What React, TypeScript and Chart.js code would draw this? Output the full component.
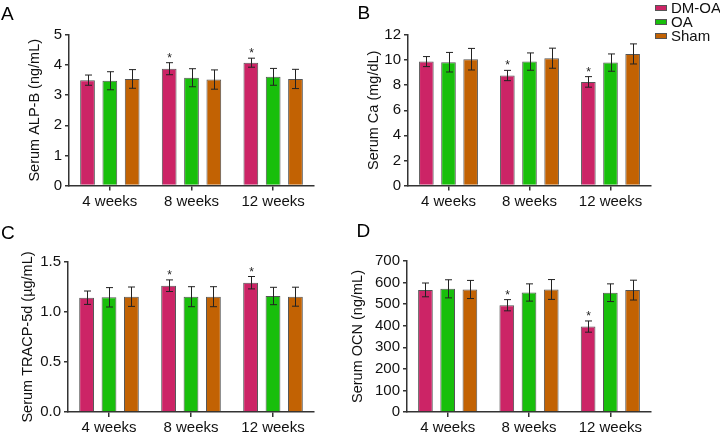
import React, { useEffect, useRef } from "react";
import { Chart, registerables } from "chart.js";

Chart.register(...registerables);

// ---------- DATA ----------
const categories = ["4 weeks", "8 weeks", "12 weeks"];
const groups = ["DM-OA", "OA", "Sham"];

// Panel A: Serum ALP-B (ng/mL)
const alpDmOa = [3.5, 3.88, 4.08];
const alpOa = [3.48, 3.58, 3.61];
const alpSham = [3.54, 3.52, 3.54];
const alpDmOaErr = [0.17, 0.2, 0.15];
const alpOaErr = [0.3, 0.3, 0.28];
const alpShamErr = [0.31, 0.32, 0.32];
const alpSig = [false, true, true];

// Panel B: Serum Ca (mg/dL)
const caDmOa = [9.88, 8.77, 8.26];
const caOa = [9.83, 9.88, 9.8];
const caSham = [10.07, 10.15, 10.49];
const caDmOaErr = [0.4, 0.41, 0.42];
const caOaErr = [0.78, 0.69, 0.69];
const caShamErr = [0.86, 0.8, 0.8];
const caSig = [false, true, true];

// Panel C: Serum TRACP-5d (µg/mL)
const tracpDmOa = [1.143, 1.263, 1.293];
const tracpOa = [1.147, 1.153, 1.16];
const tracpSham = [1.153, 1.153, 1.153];
const tracpDmOaErr = [0.067, 0.058, 0.062];
const tracpOaErr = [0.097, 0.1, 0.087];
const tracpShamErr = [0.097, 0.1, 0.095];
const tracpSig = [false, true, true];

// Panel D: Serum OCN (ng/mL)
const ocnDmOa = [566, 495, 396];
const ocnOa = [571, 554, 553];
const ocnSham = [568, 568, 565];
const ocnDmOaErr = [32, 26, 26];
const ocnOaErr = [42, 40, 41];
const ocnShamErr = [42, 46, 46];
const ocnSig = [false, true, true];

// y-axis tick settings
const alpTicks = { max: 5, step: 1, decimals: 0 };
const caTicks = { max: 12, step: 2, decimals: 0 };
const tracpTicks = { max: 1.5, step: 0.5, decimals: 1 };
const ocnTicks = { max: 700, step: 100, decimals: 0 };

// ---------- STYLE ----------
const FONT = "'Liberation Sans', Arial, Helvetica, sans-serif";
const colors = ["#CC2466", "#18BF0B", "#C26203"];
const AXIS = "#333333";
const TEXT = "#111111";

type Panel = {
  letter: string;
  title: string;
  ticks: { max: number; step: number; decimals: number };
  means: number[][];
  errs: number[][];
  sig: boolean[];
  left: number;
  top: number;
  w: number;
  h: number;
  area: { l: number; r: number; t: number; b: number };
  titleX: number;
  letterPos: { x: number; y: number };
};

const panels: Panel[] = [
  {
    letter: "A",
    title: "Serum ALP-B (ng/mL)",
    ticks: alpTicks,
    means: [alpDmOa, alpOa, alpSham],
    errs: [alpDmOaErr, alpOaErr, alpShamErr],
    sig: alpSig,
    left: 0, top: 0, w: 340, h: 218,
    area: { l: 69, r: 314, t: 35, b: 185.5 },
    titleX: 35,
    letterPos: { x: 1, y: 3.5 },
  },
  {
    letter: "B",
    title: "Serum Ca (mg/dL)",
    ticks: caTicks,
    means: [caDmOa, caOa, caSham],
    errs: [caDmOaErr, caOaErr, caShamErr],
    sig: caSig,
    left: 340, top: 0, w: 380, h: 218,
    area: { l: 408, r: 651, t: 35, b: 185.5 },
    titleX: 374,
    letterPos: { x: 357.5, y: 2.5 },
  },
  {
    letter: "C",
    title: "Serum TRACP-5d (µg/mL)",
    ticks: tracpTicks,
    means: [tracpDmOa, tracpOa, tracpSham],
    errs: [tracpDmOaErr, tracpOaErr, tracpShamErr],
    sig: tracpSig,
    left: 0, top: 218, w: 340, h: 218,
    area: { l: 68, r: 314, t: 262, b: 412 },
    titleX: 28,
    letterPos: { x: 1, y: 222.5 },
  },
  {
    letter: "D",
    title: "Serum OCN (ng/mL)",
    ticks: ocnTicks,
    means: [ocnDmOa, ocnOa, ocnSham],
    errs: [ocnDmOaErr, ocnOaErr, ocnShamErr],
    sig: ocnSig,
    left: 340, top: 218, w: 380, h: 218,
    area: { l: 407, r: 651, t: 261, b: 412 },
    titleX: 358,
    letterPos: { x: 356.5, y: 220.5 },
  },
];

const errorBarPlugin = {
  id: "errorBars",
  afterDatasetsDraw(chart: any) {
    const ctx = chart.ctx;
    const yScale = chart.scales.y;
    chart.data.datasets.forEach((ds: any, di: number) => {
      const meta = chart.getDatasetMeta(di);
      meta.data.forEach((bar: any, i: number) => {
        const v = ds.data[i];
        const e = ds.errors[i];
        const yTop = yScale.getPixelForValue(v + e);
        const yBot = yScale.getPixelForValue(v - e);
        const x = Math.round(bar.x) + 0.5;
        ctx.save();
        ctx.strokeStyle = "#222222";
        ctx.lineWidth = 1;
        ctx.beginPath();
        ctx.moveTo(x, yTop);
        ctx.lineTo(x, yBot);
        ctx.moveTo(x - 3.5, yTop);
        ctx.lineTo(x + 3.5, yTop);
        ctx.moveTo(x - 3.5, yBot);
        ctx.lineTo(x + 3.5, yBot);
        ctx.stroke();
        if (ds.sig && ds.sig[i]) {
          ctx.fillStyle = "#222222";
          ctx.font = `12px ${FONT}`;
          ctx.textAlign = "center";
          ctx.textBaseline = "alphabetic";
          ctx.fillText("*", x, yTop - 1);
        }
        ctx.restore();
      });
    });
  },
};

function PanelChart({ p }: { p: Panel }) {
  const ref = useRef<HTMLCanvasElement | null>(null);
  useEffect(() => {
    if (!ref.current) return;
    const relL = p.area.l - p.left;
    const relR = p.area.r - p.left;
    const relT = p.area.t - p.top;
    const relB = p.area.b - p.top;
    const chart = new Chart(ref.current, {
      type: "bar",
      data: {
        labels: categories,
        datasets: groups.map((g, i) => ({
          label: g,
          data: p.means[i],
          errors: p.errs[i],
          sig: i === 0 ? p.sig : null,
          backgroundColor: colors[i],
          borderColor: "#555555",
          borderWidth: 1,
          categoryPercentage: 0.82,
          barPercentage: 0.66,
        })) as any,
      },
      options: {
        responsive: false,
        animation: false,
        devicePixelRatio: 1,
        layout: {
          padding: { left: 0, top: relT, right: p.w - relR, bottom: 0 },
        },
        plugins: {
          legend: { display: false },
          tooltip: { enabled: false },
        },
        scales: {
          x: {
            offset: true,
            grid: {
              display: true,
              drawOnChartArea: false,
              drawTicks: true,
              tickLength: 5,
              offset: false,
              color: AXIS,
              lineWidth: 1.5,
            },
            border: { display: true, color: AXIS, width: 1.5 },
            ticks: {
              color: TEXT,
              font: { family: FONT, size: 15 },
              padding: 2,
              maxRotation: 0,
            },
            afterFit: (s: any) => {
              s.height = p.h - relB;
            },
          },
          y: {
            min: 0,
            max: p.ticks.max,
            ticks: {
              stepSize: p.ticks.step,
              color: TEXT,
              font: { family: FONT, size: 15 },
              padding: 3,
              callback: (v: any) => Number(v).toFixed(p.ticks.decimals),
            },
            grid: {
              display: true,
              drawOnChartArea: false,
              drawTicks: true,
              tickLength: 4,
              color: AXIS,
              lineWidth: 1.5,
            },
            border: { display: true, color: AXIS, width: 1.5 },
            title: {
              display: true,
              text: p.title,
              color: TEXT,
              font: { family: FONT, size: 14.5 },
              padding: { top: p.titleX - p.left - 8.7, bottom: 0 },
            },
            afterFit: (s: any) => {
              s.width = relL;
            },
          },
        },
      } as any,
      plugins: [errorBarPlugin],
    });
    return () => chart.destroy();
  }, [p]);
  return (
    <canvas
      ref={ref}
      width={p.w}
      height={p.h}
      style={{ position: "absolute", left: p.left, top: p.top, width: p.w, height: p.h, display: "block" }}
    />
  );
}

export default function App() {
  return (
    <div
      style={{
        position: "absolute",
        left: 0,
        top: 0,
        width: 720,
        height: 436,
        background: "#ffffff",
        overflow: "hidden",
        fontFamily: FONT,
      }}
    >
      {panels.map((p) => (
        <PanelChart key={p.letter} p={p} />
      ))}
      {panels.map((p) => (
        <div
          key={"l" + p.letter}
          style={{
            position: "absolute",
            left: p.letterPos.x,
            top: p.letterPos.y,
            fontSize: 19,
            lineHeight: "19px",
            color: "#000",
          }}
        >
          {p.letter}
        </div>
      ))}
      <div style={{ position: "absolute", left: 655, top: 1, whiteSpace: "nowrap" }}>
        {groups.map((g, i) => (
          <div key={g} style={{ display: "flex", alignItems: "center", height: 14 }}>
            <span
              style={{
                display: "inline-block",
                width: 10,
                height: 4,
                background: colors[i],
                border: "1px solid #555",
                marginRight: 4,
                flex: "none",
              }}
            />
            <span style={{ fontSize: 15, lineHeight: "14px", color: TEXT }}>{g}</span>
          </div>
        ))}
      </div>
    </div>
  );
}
